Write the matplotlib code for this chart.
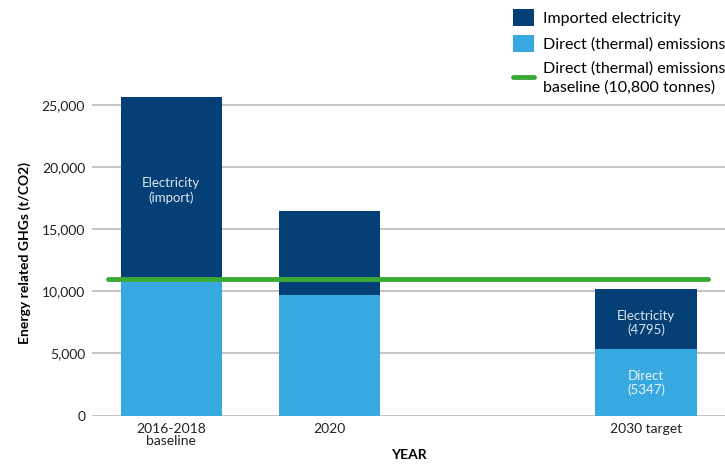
import numpy as np
import matplotlib.pyplot as plt

# Data
categories = ['2016-2018\nbaseline', '2020', '', '2030 target']
direct = [11000, 9730, np.nan, 5347]
electricity = [14660, 6740, np.nan, 4795]
baseline_line = 10950
yticks = [0, 5000, 10000, 15000, 20000, 25000]

navy = '#043f76'
light_blue = '#38a8e0'
green = '#3aaa35'

plt.rcParams['font.family'] = ['Lato', 'DejaVu Sans']

fig = plt.figure(figsize=(7.25, 4.68), dpi=100)
ax = fig.add_axes([0.127, 0.112, 0.873, 0.696])

x = np.arange(len(categories))
ax.bar(x, direct, width=0.64, color=light_blue, label='Direct (thermal) emissions', zorder=2)
ax.bar(x, electricity, width=0.64, bottom=direct, color=navy,
       label='Imported electricity', zorder=2)
ax.plot([-0.4, 3.39], [baseline_line, baseline_line], color=green, lw=3.5, zorder=3,
        label='Direct (thermal) emissions\nbaseline (10,800 tonnes)', solid_capstyle='round')

# labels inside the bars
ax.text(0, 18100, 'Electricity\n(import)', color='#dfe6ee', ha='center', va='center',
        fontsize=9.5, linespacing=1.2)
ax.text(3, 7450, 'Electricity\n(4795)', color='#dfe6ee', ha='center', va='center',
        fontsize=9.5, linespacing=1.2)
ax.text(3, 2620, 'Direct\n(5347)', color='#e8f4fb', ha='center', va='center',
        fontsize=9.5, linespacing=1.2)

ax.set_xlim(-0.5, 3.5)
ax.set_ylim(0, 26200)
ax.set_yticks(yticks)
ax.set_yticklabels([f'{v:,}' for v in yticks], fontsize=10)
ax.set_xticks([0, 1, 3])
ax.set_xticklabels([categories[0], categories[1], categories[3]], fontsize=10,
                   linespacing=1.0)
ax.grid(axis='y', color='#bfbfbf', lw=1.3, zorder=0)
ax.tick_params(axis='both', length=0, pad=5, colors='#222222')
for s in ['top', 'right', 'left', 'bottom']:
    ax.spines[s].set_visible(False)

ax.set_ylabel('Energy related GHGs (t/CO2)', fontsize=10, fontweight='bold', labelpad=8)
ax.set_xlabel('YEAR', fontsize=10, fontweight='bold', labelpad=2)

handles, labels = ax.get_legend_handles_labels()
by_label = dict(zip(labels, handles))
order = ['Imported electricity', 'Direct (thermal) emissions',
         'Direct (thermal) emissions\nbaseline (10,800 tonnes)']
leg = fig.legend([by_label[k] for k in order], order,
                 loc='upper left', bbox_to_anchor=(0.688, 1.011), frameon=False,
                 fontsize=11.5, handlelength=1.3, handleheight=1.2, handletextpad=0.55,
                 labelspacing=0.6)
for t in leg.get_texts():
    t.set_linespacing(1.4)

fig.savefig('out.png', dpi=100)
